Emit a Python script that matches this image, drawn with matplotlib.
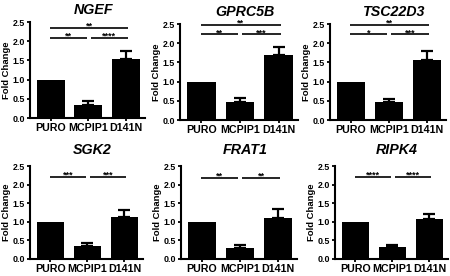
import numpy as np
import matplotlib
matplotlib.use("Agg")
import matplotlib.pyplot as plt

plt.rcParams['font.family'] = ['Liberation Sans', 'DejaVu Sans']
plt.rcParams['font.weight'] = 'bold'

# Data
groups = ["PURO", "MCPIP1", "D141N"]
genes = ["NGEF", "GPRC5B", "TSC22D3", "SGK2", "FRAT1", "RIPK4"]

ngef_mean = [1.0, 0.34, 1.53]
ngef_err = [0.0, 0.10, 0.22]
gprc5b_mean = [1.0, 0.46, 1.68]
gprc5b_err = [0.0, 0.11, 0.23]
tsc22d3_mean = [1.0, 0.48, 1.56]
tsc22d3_err = [0.0, 0.07, 0.24]
sgk2_mean = [1.0, 0.36, 1.14]
sgk2_err = [0.0, 0.08, 0.18]
frat1_mean = [1.0, 0.30, 1.10]
frat1_err = [0.0, 0.08, 0.24]
ripk4_mean = [1.0, 0.33, 1.08]
ripk4_err = [0.0, 0.05, 0.12]

# significance: (i, j, label, height)
ngef_sig = [(0, 2, "**", 2.34), (0, 1, "**", 2.09), (1, 2, "****", 2.09)]
gprc5b_sig = [(0, 2, "**", 2.48), (0, 1, "**", 2.23), (1, 2, "***", 2.23)]
tsc22d3_sig = [(0, 2, "**", 2.48), (0, 1, "*", 2.23), (1, 2, "***", 2.23)]
sgk2_sig = [(0, 1, "***", 2.20), (1, 2, "***", 2.20)]
frat1_sig = [(0, 1, "**", 2.18), (1, 2, "**", 2.18)]
ripk4_sig = [(0, 1, "****", 2.20), (1, 2, "****", 2.20)]

means = [ngef_mean, gprc5b_mean, tsc22d3_mean, sgk2_mean, frat1_mean, ripk4_mean]
errs = [ngef_err, gprc5b_err, tsc22d3_err, sgk2_err, frat1_err, ripk4_err]
sigs = [ngef_sig, gprc5b_sig, tsc22d3_sig, sgk2_sig, frat1_sig, ripk4_sig]

W, H = 450, 276
# axes boxes in pixels: left, right, top, bottom
boxes = [(30, 145, 22, 118), (180, 298, 24, 120), (330, 446, 24, 120),
         (30, 143, 166, 259), (181, 297, 166, 259), (335, 448, 166, 259)]
title_y = [10, 12, 12, 150, 150, 150]

fig = plt.figure(figsize=(4.5, 2.76), dpi=100)

for k in range(6):
    l, r, t, b = boxes[k]
    ax = fig.add_axes([l / W, (H - b) / H, (r - l) / W, (b - t) / H])
    x = np.arange(3)
    m = np.array(means[k])
    e = np.array(errs[k])
    ax.bar(x, m, width=0.74, color="black")
    has = e > 0
    ax.errorbar(x[has], m[has], yerr=[np.zeros(has.sum()), e[has]], fmt="none",
                ecolor="black", elinewidth=1.6, capsize=4.5, capthick=1.6)
    ax.set_xlim(-0.55, 2.5)
    ax.set_ylim(0, 2.5)
    ax.set_yticks([0, 0.5, 1.0, 1.5, 2.0, 2.5])
    ax.set_yticklabels(["0.0", "0.5", "1.0", "1.5", "2.0", "2.5"], fontsize=6.4, fontweight="bold")
    ax.set_xticks(x)
    ax.set_xticklabels(groups, fontsize=7.7, fontweight="bold")
    ax.tick_params(axis="both", width=1.3, length=2.5, pad=1)
    ax.spines["top"].set_visible(False)
    ax.spines["right"].set_visible(False)
    ax.spines["left"].set_linewidth(1.5)
    ax.spines["bottom"].set_linewidth(1.5)
    ax.set_ylabel("Fold Change", fontsize=6.8, fontweight="bold", labelpad=1)
    ax.text(0.55, (t - title_y[k]) / (b - t) + 1, genes[k], transform=ax.transAxes,
            ha="center", va="center", fontsize=10.3, fontweight="bold", style="italic")
    for (i, j, lab, h) in sigs[k]:
        x0 = i - 0.02
        x1 = j - 0.04 if (j - i == 1 and i == 0) else j + 0.05
        if j - i == 1 and i == 1:
            x0 = i + 0.06
        ax.plot([x0, x1], [h, h], color="black", lw=1.2, clip_on=False,
                solid_capstyle="butt")
        ax.text((x0 + x1) / 2, h - 0.02, lab, ha="center", va="baseline",
                fontsize=6.5, fontweight="bold")

fig.savefig("out.png", dpi=100)
